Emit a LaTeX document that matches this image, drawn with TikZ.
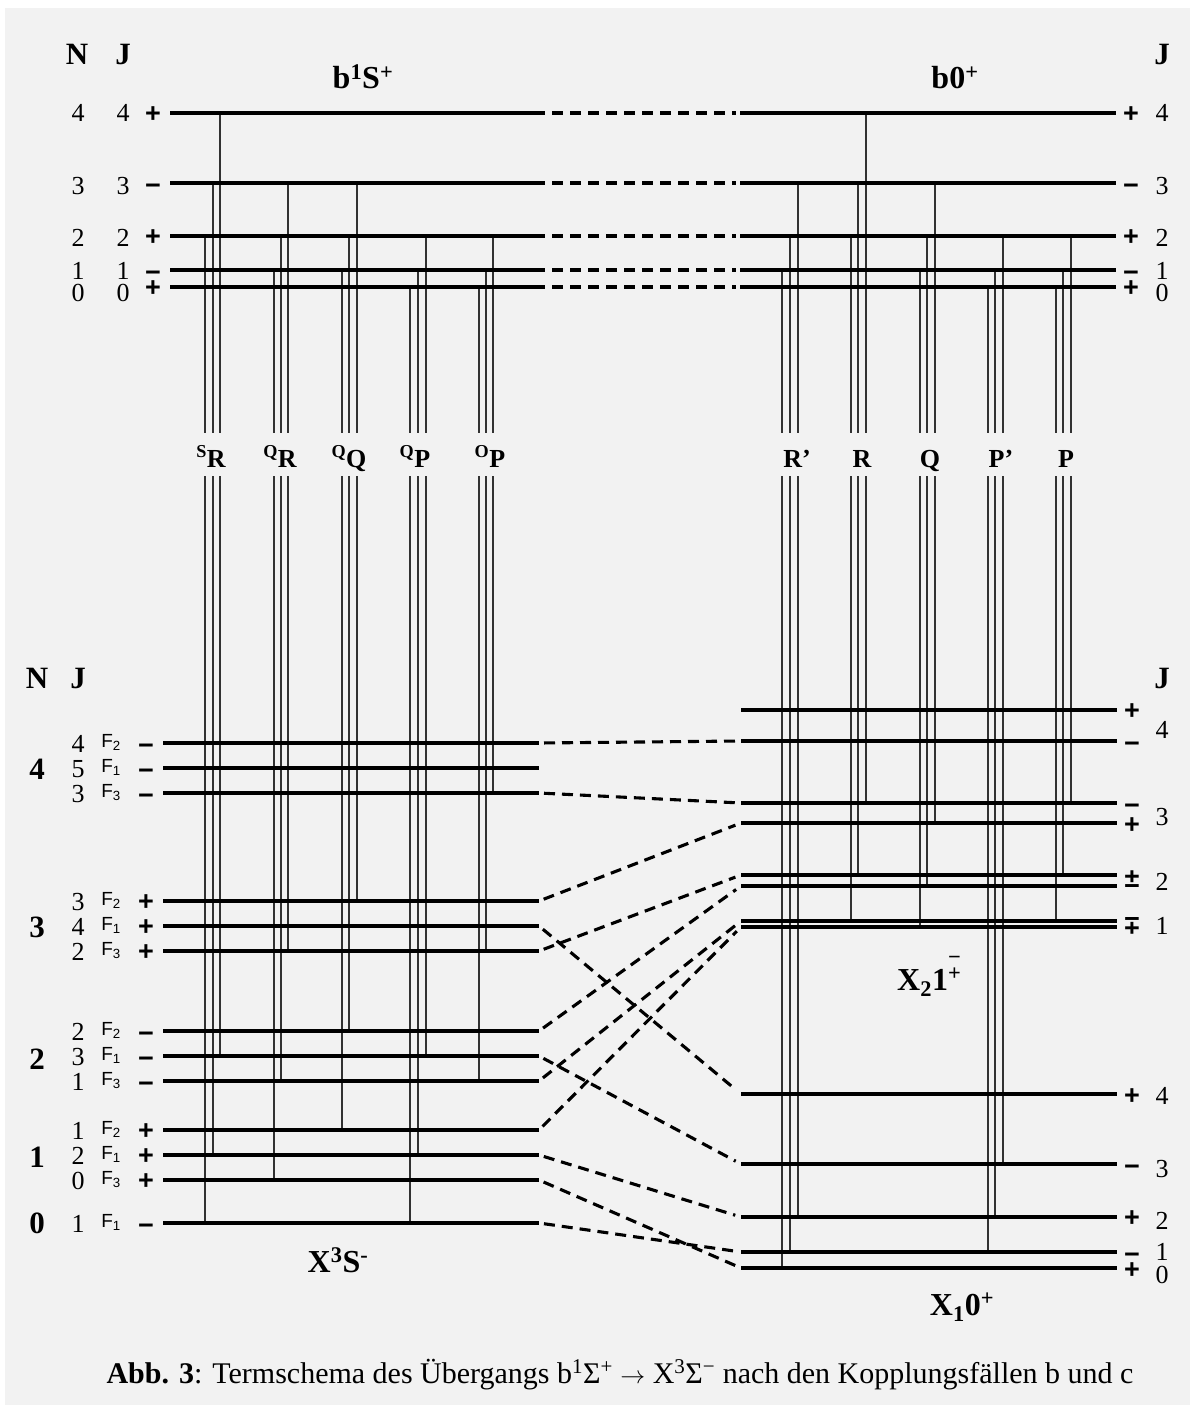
\documentclass[tikz,border=0pt]{standalone}
\usepackage{fontspec}
\setmainfont{Liberation Serif}
\setsansfont{Liberation Sans}
\definecolor{bg}{RGB}{242,242,242}
\definecolor{trc}{RGB}{50,50,50}
\newcommand\mytr[3]{\draw[trl] (#2 -| #1) -- (gt -| #1) (gb -| #1) -- (#3 -| #1);}
\begin{document}
\begin{tikzpicture}[x=1pt,y=-1pt,
  lvl/.style={line width=3.1pt},
  trl/.style={line width=1.3pt,draw=trc},
  corr/.style={line width=3.1pt,dash pattern=on 11pt off 7pt,shorten <=5pt,shorten >=6pt},
  num/.style={inner sep=0pt,font=\fontsize{26}{26}\selectfont},
  bnum/.style={inner sep=0pt,font=\fontsize{31}{31}\selectfont\bfseries},
  hdr/.style={inner sep=0pt,anchor=base,font=\fontsize{31}{31}\selectfont\bfseries},
  par/.style={inner sep=0pt,anchor=base,yshift=-9.6pt,font=\fontsize{27}{27}\selectfont\sffamily\bfseries},
  mpar/.style={par,yshift=-1.6pt},
  fl/.style={inner sep=0pt,anchor=base,font=\fontsize{19}{19}\selectfont\sffamily},
  brl/.style={inner sep=0pt,anchor=base,font=\fontsize{26}{26}\selectfont\bfseries},
  ttl/.style={inner sep=0pt,anchor=base,font=\fontsize{32}{32}\selectfont\bfseries},
]
\useasboundingbox (0,0) rectangle (1194,1407);
\fill[bg] (5,8) rectangle (1190,1405);

% ---------- coordinates ----------
\coordinate (gt) at (0,433);
\coordinate (gb) at (0,476);
\foreach \j/\y in {4/113,3/183,2/236,1/270,0/287}{
  \coordinate (pa\j) at (170,\y);
  \coordinate (pb\j) at (545,\y);
  \coordinate (pc\j) at (740,\y);
  \coordinate (pd\j) at (1116,\y);
}
\foreach \n/\y in {n4f2/743,n4f1/768,n4f3/793,n3f2/901,n3f1/926,n3f3/951,n2f2/1031,n2f1/1056,n2f3/1081,n1f2/1130,n1f1/1155,n1f3/1180,n0f1/1223}{
  \coordinate (la\n) at (163,\y);
  \coordinate (lb\n) at (539,\y);
}
\foreach \n/\y in {x2p4/710,x2m4/741,x2m3/803,x2p3/823,x2p2/875,x2m2/886,x2m1/921,x2p1/927,x1p4/1094,x1m3/1164,x1p2/1217,x1m1/1252,x1p0/1268}{
  \coordinate (ra\n) at (741,\y);
  \coordinate (rb\n) at (1117,\y);
}
\foreach \c/\x in {c1/205,c2/213,c3/220,c4/274,c5/281,c6/288,c7/342,c8/349,c9/357,c10/410,c11/418,c12/426,c13/479,c14/486,c15/493,
  d1/782,d2/790,d3/798,d4/851,d5/858,d6/866,d7/920,d8/927,d9/935,d10/988,d11/995,d12/1003,d13/1056,d14/1063,d15/1071}{
  \coordinate (\c) at (\x,0);
}

% ---------- transitions (case b) ----------
\mytr{c1}{pa2}{lan0f1} \mytr{c2}{pa3}{lan1f1} \mytr{c3}{pa4}{lan2f1}
\mytr{c4}{pa1}{lan1f3} \mytr{c5}{pa2}{lan2f3} \mytr{c6}{pa3}{lan3f3}
\mytr{c7}{pa1}{lan1f2} \mytr{c8}{pa2}{lan2f2} \mytr{c9}{pa3}{lan3f2}
\mytr{c10}{pa0}{lan0f1} \mytr{c11}{pa1}{lan1f1} \mytr{c12}{pa2}{lan2f1}
\mytr{c13}{pa0}{lan2f3} \mytr{c14}{pa1}{lan3f3} \mytr{c15}{pa2}{lan4f3}
% ---------- transitions (case c) ----------
\mytr{d1}{pc1}{rax1p0} \mytr{d2}{pc2}{rax1m1} \mytr{d3}{pc3}{rax1p2}
\mytr{d4}{pc2}{rax2m1} \mytr{d5}{pc3}{rax2p2} \mytr{d6}{pc4}{rax2m3}
\mytr{d7}{pc1}{rax2p1} \mytr{d8}{pc2}{rax2m2} \mytr{d9}{pc3}{rax2p3}
\mytr{d10}{pc0}{rax1m1} \mytr{d11}{pc1}{rax1p2} \mytr{d12}{pc2}{rax1m3}
\mytr{d13}{pc0}{rax2m1} \mytr{d14}{pc1}{rax2p2} \mytr{d15}{pc2}{rax2m3}

% ---------- levels ----------
\foreach \j in {4,3,2,1,0}{
  \draw[lvl] (pa\j) -- (pb\j);
  \draw[lvl] (pc\j) -- (pd\j);
  \draw[corr,shorten <=7pt,shorten >=4pt] (pb\j) -- (pc\j);
}
\foreach \n in {n4f2,n4f1,n4f3,n3f2,n3f1,n3f3,n2f2,n2f1,n2f3,n1f2,n1f1,n1f3,n0f1}{
  \draw[lvl] (la\n) -- (lb\n);
}
\foreach \n in {x2p4,x2m4,x2m3,x2p3,x2p2,x2m2,x2m1,x2p1,x1p4,x1m3,x1p2,x1m1,x1p0}{
  \draw[lvl] (ra\n) -- (rb\n);
}
% correlation lines
\foreach \a/\b in {n4f2/x2m4,n4f3/x2m3,n3f2/x2p3,n3f1/x1p4,n3f3/x2p2,n2f2/x2m2,n2f1/x1m3,n2f3/x2m1,n1f2/x2p1,n1f1/x1p2,n1f3/x1p0,n0f1/x1m1}{
  \draw[corr] (lb\a) -- (ra\b);
}

% ---------- upper labels ----------
\node[hdr] (hN1) at (77,65) {N};
\node[hdr] (hJ1) at (123,65) {J};
\node[hdr] (hJ2) at (1162,65) {J};
\foreach \j/\yn in {4/113,3/186,2/238,1/271,0/293}{
  \node[num] (uN\j) at (78,\yn) {\j};
  \node[num] (uJ\j) at (123,\yn) {\j};
  \node[num] (vJ\j) at (1162,\yn) {\j};
}
\foreach \j/\yl in {4/113,2/236,0/287}{
  \node[par] (uP\j) at (153,\yl) {+};
  \node[par] (vP\j) at (1131,\yl) {+};
}
\foreach \j/\yl in {3/183,1/270}{
  \node[mpar] (uP\j) at (153,\yl) {−};
  \node[mpar] (vP\j) at (1131,\yl) {−};
}
\node[ttl] (tb) at (363,89) {b\textsuperscript{1}S\textsuperscript{+}};
\node[ttl] (tc) at (955,89) {b0\textsuperscript{+}};

% ---------- branch labels ----------
\node[brl] (bSR) at (211,467) {\textsuperscript{S}R};
\node[brl] (bQR) at (280,467) {\textsuperscript{Q}R};
\node[brl] (bQQ) at (349,467) {\textsuperscript{Q}Q};
\node[brl] (bQP) at (415,467) {\textsuperscript{Q}P};
\node[brl] (bOP) at (490,467) {\textsuperscript{O}P};
\node[brl] (bRp) at (797,467) {R’};
\node[brl] (bR) at (862,467) {R};
\node[brl] (bQ) at (930,467) {Q};
\node[brl] (bPp) at (1001,467) {P’};
\node[brl] (bP) at (1066,467) {P};

% ---------- lower left labels ----------
\node[hdr] (hN2) at (37,688) {N};
\node[hdr] (hJ3) at (78,688) {J};
\node[hdr] (hJ4) at (1162,688) {J};
\foreach \n/\N/\y in {4/4/769,3/3/927,2/2/1059,1/1/1157,0/0/1223}{
  \node[bnum] (bn\n) at (37,\y) {\N};
}
\foreach \n/\y/\J/\F in {n4f2/743/4/2,n4f1/768/5/1,n4f3/793/3/3,
  n3f2/901/3/2,n3f1/926/4/1,n3f3/951/2/3,
  n2f2/1031/2/2,n2f1/1056/3/1,n2f3/1081/1/3,
  n1f2/1130/1/2,n1f1/1155/2/1,n1f3/1180/0/3,
  n0f1/1223/1/1}{
  \node[num] (lj\n) at (78,\y+1) {\J};
  \node[fl] (lf\n) at (111,\y+4.5) {F\textsubscript{\F}};
}
\foreach \n/\y in {n3f2/901,n3f1/926,n3f3/951,n1f2/1130,n1f1/1155,n1f3/1180}{
  \node[par] (lp\n) at (146,\y) {+};
}
\foreach \n/\y in {n4f2/743,n4f1/768,n4f3/793,n2f2/1031,n2f1/1056,n2f3/1081,n0f1/1223}{
  \node[mpar] (lp\n) at (146,\y) {−};
}
\node[ttl] (tx3) at (338,1272) {X\textsuperscript{3}S\textsuperscript{-}};

% ---------- lower right labels ----------
\foreach \n/\y in {x2p4/710,x2p3/824,x1p4/1095,x1p2/1217,x1p0/1269}{
  \node[par] (rp\n) at (1132,\y) {+};
}
\foreach \n/\y in {x2m4/741,x2m3/803,x1m3/1164,x1m1/1252}{
  \node[mpar] (rp\n) at (1132,\y) {−};
}
\node[inner sep=0pt,font=\fontsize{27}{27}\selectfont\sffamily\bfseries] (rpm2) at (1132,879) {±};
\node[inner sep=0pt,font=\fontsize{27}{27}\selectfont\sffamily\bfseries] (rpm1) at (1132,926) {\scalebox{1}[-1]{±}};
\foreach \k/\j/\y in {a/4/730,b/3/817,c/2/882,d/1/926,e/4/1096,f/3/1169,g/2/1221,h/1/1252,i/0/1275}{
  \node[num] (rj\k) at (1162,\y) {\j};
}
\node[ttl,anchor=base west] (tx2) at (897,990) {X\textsubscript{2}1\textsuperscript{\rlap{\raisebox{0.75em}{−}}+}};
\node[ttl] (tx1) at (962,1315) {X\textsubscript{1}0\textsuperscript{+}};

% ---------- caption ----------
\node[inner sep=0pt,anchor=base,font=\fontsize{30}{30}\selectfont] (cap) at (620,1383)
  {\textbf{Abb. 3}: Termschema des Übergangs b\textsuperscript{1}Σ\textsuperscript{+} $\rightarrow$ X\textsuperscript{3}Σ\textsuperscript{−} nach den Kopplungsfällen b und c};
\end{tikzpicture}
\end{document}
